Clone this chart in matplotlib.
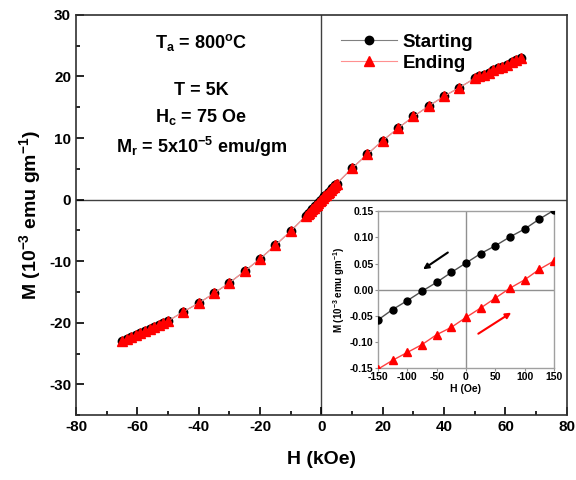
import matplotlib
matplotlib.use("Agg")
import matplotlib.pyplot as plt
from matplotlib.ticker import MultipleLocator
from matplotlib.font_manager import FontProperties

plt.rcParams['font.family'] = ['Liberation Sans', 'DejaVu Sans']
plt.rcParams['font.weight'] = 'bold'
plt.rcParams['axes.unicode_minus'] = False
plt.rcParams['mathtext.fontset'] = 'custom'
plt.rcParams['mathtext.rm'] = 'Liberation Sans:bold'
plt.rcParams['mathtext.bf'] = 'Liberation Sans:bold'
plt.rcParams['mathtext.it'] = 'Liberation Sans:bold'
plt.rcParams['mathtext.default'] = 'rm'

# main loop, H in kOe, M in 1e-3 emu/gm (sweep from -65 to +65)
H_main = [-65, -63.5, -62, -60.5, -59, -57.5, -56, -54.5, -53, -51.5, -50,
          -45, -40, -35, -30, -25, -20, -15, -10,
          -5, -4.5, -4, -3.5, -3, -2.5, -2, -1.5, -1, -0.5, 0,
          0.5, 1, 1.5, 2, 2.5, 3, 3.5, 4, 4.5, 5,
          10, 15, 20, 25, 30, 35, 40, 45,
          50, 51.5, 53, 54.5, 56, 57.5, 59, 60.5, 62, 63.5, 65]
M_main = [-23.0, -22.6, -22.3, -21.9, -21.6, -21.3, -21.0, -20.6, -20.3, -20.0, -19.7,
          -18.2, -16.8, -15.2, -13.5, -11.6, -9.6, -7.4, -5.1,
          -2.6, -2.35, -2.1, -1.83, -1.57, -1.31, -1.05, -0.79, -0.52, -0.26, 0.0,
          0.26, 0.52, 0.79, 1.05, 1.31, 1.57, 1.83, 2.1, 2.35, 2.6,
          5.1, 7.4, 9.6, 11.6, 13.5, 15.2, 16.8, 18.2,
          19.7, 20.0, 20.3, 20.6, 21.0, 21.3, 21.6, 21.9, 22.3, 22.6, 23.0]

# low field detail, H in Oe
H_in = [-150, -125, -100, -75, -50, -25, 0, 25, 50, 75, 100, 125, 150]
M_start_in = [-0.058, -0.038, -0.021, -0.003, 0.014, 0.033, 0.051, 0.069, 0.084, 0.101, 0.116, 0.135, 0.152]
M_end_in = [-0.152, -0.135, -0.120, -0.105, -0.086, -0.072, -0.053, -0.035, -0.016, 0.003, 0.019, 0.039, 0.055]

fig = plt.figure(figsize=(5.76, 4.8), dpi=100)
ax = fig.add_axes([0.132, 0.135, 0.852, 0.834])

ax.axhline(0, color='#404040', lw=1, zorder=1)
ax.axvline(0, color='#404040', lw=1, zorder=1)

ax.plot(H_main[::-1], M_main[::-1], color='#808080', lw=0.8, marker='o', ms=6,
        mfc='black', mec='black', label='Starting', zorder=3)
ax.plot(H_main, M_main, color='#ff9090', lw=0.8, marker='^', ms=7,
        mfc='red', mec='red', label='Ending', zorder=4)

ax.set_xlim(-80, 80)
ax.set_ylim(-35, 30)
ax.xaxis.set_major_locator(MultipleLocator(20))
ax.xaxis.set_minor_locator(MultipleLocator(10))
ax.yaxis.set_major_locator(MultipleLocator(10))
ax.yaxis.set_minor_locator(MultipleLocator(5))
ax.tick_params(which='both', direction='in', top=False, right=False, width=1.2, labelsize=11)
ax.tick_params(which='major', length=6)
ax.tick_params(which='minor', length=3)
for s in ax.spines.values():
    s.set_linewidth(1.2)
    s.set_color('#303030')

ax.set_xlabel('H (kOe)', fontsize=14, fontweight='bold', labelpad=12)
ax.set_ylabel('M (10$^{-3}$ emu gm$^{-1}$)', fontsize=14, fontweight='bold', labelpad=4)

ax.text(0.255, 0.93, 'T$_a$ = 800$^o$C', transform=ax.transAxes, ha='center', va='center', fontsize=13)
ax.text(0.255, 0.81, 'T = 5K', transform=ax.transAxes, ha='center', va='center', fontsize=13)
ax.text(0.255, 0.745, 'H$_c$ = 75 Oe', transform=ax.transAxes, ha='center', va='center', fontsize=13)
ax.text(0.255, 0.67, 'M$_r$ = 5x10$^{-5}$ emu/gm', transform=ax.transAxes, ha='center', va='center', fontsize=13)

leg_font = FontProperties(family='Liberation Sans', weight='bold', size=13.5)
leg = ax.legend(loc='upper left', bbox_to_anchor=(0.505, 0.995), frameon=False,
                prop=leg_font, handlelength=3, handletextpad=0.3, labelspacing=0.2)

# inset
axi = fig.add_axes([0.656, 0.233, 0.306, 0.327])
axi.axhline(0, color='#909090', lw=1, zorder=1)
axi.axvline(0, color='#909090', lw=1, zorder=1)
axi.plot(H_in, M_start_in, color='#505050', lw=1, marker='o', ms=5, mfc='black', mec='black', zorder=3)
axi.plot(H_in, M_end_in, color='#ff4040', lw=1, marker='^', ms=5.5, mfc='red', mec='red', zorder=3)
axi.annotate('', xy=(-77, 0.036), xytext=(-27, 0.074),
             arrowprops=dict(arrowstyle='-|>', color='black', lw=1.5, mutation_scale=8))
axi.annotate('', xy=(81, -0.041), xytext=(17, -0.087),
             arrowprops=dict(arrowstyle='-|>', color='red', lw=1.5, mutation_scale=8))
axi.set_xlim(-150, 150)
axi.set_ylim(-0.15, 0.15)
axi.xaxis.set_major_locator(MultipleLocator(50))
axi.yaxis.set_major_locator(MultipleLocator(0.05))
axi.yaxis.set_major_formatter(matplotlib.ticker.FormatStrFormatter('%.2f'))
axi.tick_params(direction='out', length=2, width=0.8, labelsize=7.5, pad=1, color='#909090')
for s in axi.spines.values():
    s.set_color('#a0a0a0')
    s.set_linewidth(1)
axi.set_xlabel('H (Oe)', fontsize=7.5, fontweight='bold', labelpad=1)
axi.set_ylabel('M (10$^{-3}$ emu gm$^{-1}$)', fontsize=7, fontweight='bold', labelpad=2)

fig.savefig('out.png', dpi=100)
